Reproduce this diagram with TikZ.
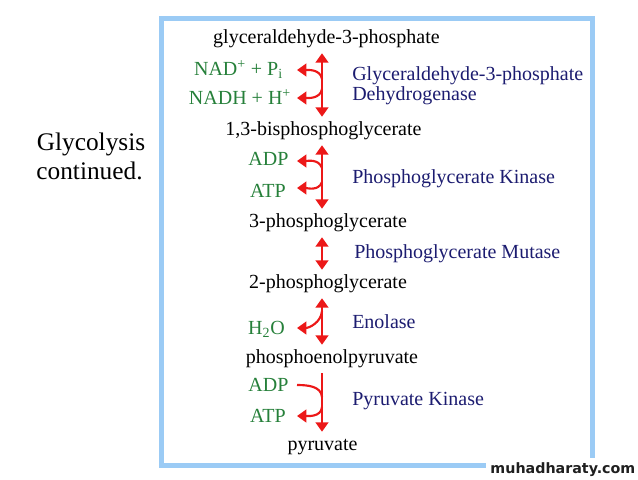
\documentclass[tikz,border=0pt]{standalone}
\usepackage{fontspec}
\setmainfont{Liberation Serif}
\newfontfamily\titlefont{Liberation Serif}
\newfontfamily\wmfont{DejaVu Sans}
\usepackage{tikz}
\usetikzlibrary{arrows.meta,calc}

\definecolor{framebl}{RGB}{155,203,245}
\definecolor{cofgreen}{RGB}{38,128,58}
\definecolor{enzblue}{RGB}{28,28,112}
\definecolor{arrred}{RGB}{236,24,24}

\begin{document}
\begin{tikzpicture}[x=0.75pt, y=-0.75pt, >={Triangle[length=7pt, width=9.5pt]},
		species/.style={inner xsep=0pt, inner ysep=3.5pt, text height=10.5pt, text depth=3.5pt,
			font=\rmfamily\fontsize{15pt}{15pt}\selectfont},
		cofactor/.style={species, text=cofgreen},
		enzyme/.style={species, text=enzblue, anchor=west},
		heading/.style={inner sep=0pt, font=\titlefont\fontsize{19pt}{20pt}\selectfont},
		rxn/.style={draw=arrred, line width=1.6pt}]
		\useasboundingbox (0,0) rectangle (638,479);
		\draw[framebl, line width=3.75pt] (161.5,18.5) rectangle (592,465.5);

		\node[heading] (title) at (91,144) {Glycolysis};
		\node[heading] (title2) at (89.5,171) {continued.};

		\node[species] (g3p) at (326.5,39) {glyceraldehyde-3-phosphate};
		\node[species] (bpg13) at (323.5,131) {1,3-bisphosphoglycerate};
		\node[species] (pg3) at (328,223) {3-phosphoglycerate};
		\node[species] (pg2) at (328,284) {2-phosphoglycerate};
		\node[species] (pep) at (332,359) {phosphoenolpyruvate};
		\node[species] (pyr) at (322.5,446) {pyruvate};

		\node[cofactor] (nad) at (238.5,71) {NAD\textsuperscript{+} + P\textsubscript{i}};
		\node[cofactor] (nadh) at (240,100) {NADH + H\textsuperscript{+}};
		\node[cofactor] (adp1) at (268.5,161) {ADP};
		\node[cofactor] (atp1) at (268,193) {ATP};
		\node[cofactor] (h2o) at (266.5,330) {H\textsubscript{2}O};
		\node[cofactor] (adp2) at (268.5,387) {ADP};
		\node[cofactor] (atp2) at (268,418) {ATP};

		\node[enzyme] (gapdh) at (352,76) {Glyceraldehyde-3-phosphate};
		\node[enzyme] (gapdh2) at (352,96) {Dehydrogenase};
		\node[enzyme] (pgk) at (352,179) {Phosphoglycerate Kinase};
		\node[enzyme] (pgm) at (354,254) {Phosphoglycerate Mutase};
		\node[enzyme] (eno) at (352,324) {Enolase};
		\node[enzyme] (pk) at (352,401) {Pyruvate Kinase};

		% main line and side branches
		\coordinate (ax) at (322,0);
		\coordinate (sx) at (297,0);
		\coordinate (j1) at (322,79);
		\coordinate (j2) at (322,89);
		\coordinate (j3) at (322,168);
		\coordinate (j4) at (322,182);
		\coordinate (j5) at (322,311);
		\coordinate (j6) at (322,397);
		\coordinate (j7) at (322,407);

		\draw[rxn, <->] (g3p.south -| ax) -- (bpg13.north -| ax);
		\draw[rxn, <->] (bpg13.south -| ax) -- (pg3.north -| ax);
		\draw[rxn, <->] (pg3.south -| ax) -- (pg2.north -| ax);
		\draw[rxn, <->] (pg2.south -| ax) -- (pep.north -| ax);
		\draw[rxn, ->] (pep.south -| ax) -- (pyr.north -| ax);

		\draw[rxn, ->] (j1) to[out=100, in=0] ($(nad.east -| sx)+(0,-1)$);
		\draw[rxn, ->] (j2) to[out=-100, in=0] ($(nadh.east -| sx)+(0,-2)$);
		\draw[rxn, ->] (j3) to[out=110, in=0] (adp1.east -| sx);
		\draw[rxn, ->] (j4) to[out=-110, in=0] ($(atp1.east -| sx)+(0,-5)$);
		\draw[rxn, ->] (j5) to[out=-95, in=0] ($(h2o.east -| sx)+(0,-2)$);
		\draw[rxn] ($(adp2.east -| sx)+(0,-2)$) to[out=0, in=95] (j6);
		\draw[rxn, ->] (j7) to[out=-95, in=0] ($(atp2.east -| sx)+(0,-2)$);

		\node[fill=white, anchor=south east, minimum width=150*0.75pt, minimum height=22*0.75pt,
			font=\wmfont\bfseries\fontsize{10.7pt}{12pt}\selectfont, text={black!88}] (wm) at (640,481) {muhadharaty.com};
	\end{tikzpicture}
\end{document}
